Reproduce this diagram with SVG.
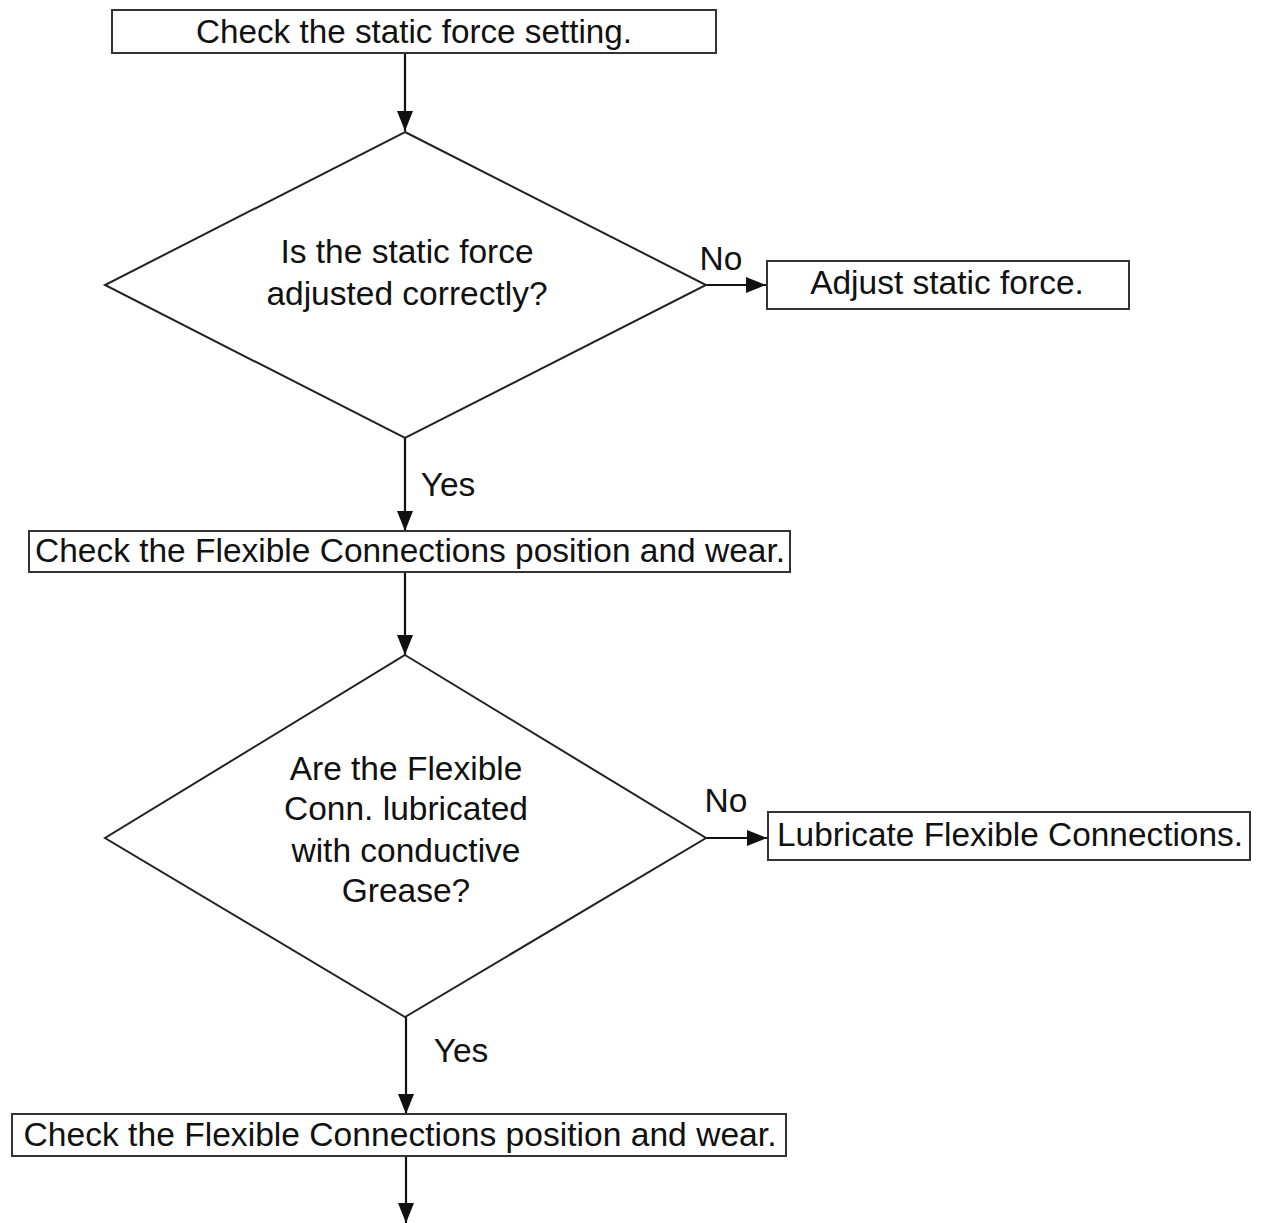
<svg xmlns="http://www.w3.org/2000/svg" width="1262" height="1223" viewBox="0 0 1262 1223">
<style>
.box{fill:#fff;stroke:#333;stroke-width:2}
.dia{fill:#fff;stroke:#222;stroke-width:2}
.t{font-family:"Liberation Sans",Arial,sans-serif;font-size:33.5px;fill:#111;text-anchor:middle}
.c{stroke:#111;stroke-width:2.2;fill:none;marker-end:url(#ah)}
</style>
<defs>
<marker id="ah" markerUnits="userSpaceOnUse" markerWidth="20" markerHeight="16" refX="20" refY="8" orient="auto">
<path d="M0,0 L20,8 L0,16 Z" fill="#111"/>
</marker>
</defs>
<rect width="1262" height="1223" fill="#fff"/>
<g id="connectors">
<line class="c" x1="405" y1="54" x2="405" y2="131"/>
<line class="c" x1="706" y1="285" x2="766" y2="285"/>
<line class="c" x1="405" y1="438" x2="405" y2="531"/>
<line class="c" x1="405" y1="572" x2="405" y2="655"/>
<line class="c" x1="706" y1="838" x2="767" y2="838"/>
<line class="c" x1="406" y1="1017" x2="406" y2="1114"/>
<line class="c" x1="406" y1="1157" x2="406" y2="1223"/>
<text class="t" x="721" y="270">No</text>
<text class="t" x="448" y="496">Yes</text>
<text class="t" x="726" y="812">No</text>
<text class="t" x="461" y="1062">Yes</text>
</g>
<g id="n1">
<rect class="box" x="112" y="10" width="604" height="43"/>
<text class="t" x="414" y="43" textLength="436" lengthAdjust="spacingAndGlyphs">Check the static force setting.</text>
</g>
<g id="d1">
<polygon class="dia" points="405,132 706,285 405,438 105,285"/>
<text class="t" x="407" y="263">Is the static force</text>
<text class="t" x="407" y="305">adjusted correctly?</text>
</g>
<g id="n2">
<rect class="box" x="767" y="261" width="362" height="48"/>
<text class="t" x="947" y="294">Adjust static force.</text>
</g>
<g id="n3">
<rect class="box" x="29" y="531" width="761" height="41"/>
<text class="t" x="410" y="562" textLength="750" lengthAdjust="spacingAndGlyphs">Check the Flexible Connections position and wear.</text>
</g>
<g id="d2">
<polygon class="dia" points="405,655 706,838 405,1017 105,838"/>
<text class="t" x="406" y="780">Are the Flexible</text>
<text class="t" x="406" y="820">Conn. lubricated</text>
<text class="t" x="406" y="862">with conductive</text>
<text class="t" x="406" y="902">Grease?</text>
</g>
<g id="n4">
<rect class="box" x="768" y="812" width="482" height="48"/>
<text class="t" x="1010" y="846" textLength="466" lengthAdjust="spacingAndGlyphs">Lubricate Flexible Connections.</text>
</g>
<g id="n5">
<rect class="box" x="12" y="1114" width="774" height="42"/>
<text class="t" x="400" y="1146" textLength="753" lengthAdjust="spacingAndGlyphs">Check the Flexible Connections position and wear.</text>
</g>
</svg>
